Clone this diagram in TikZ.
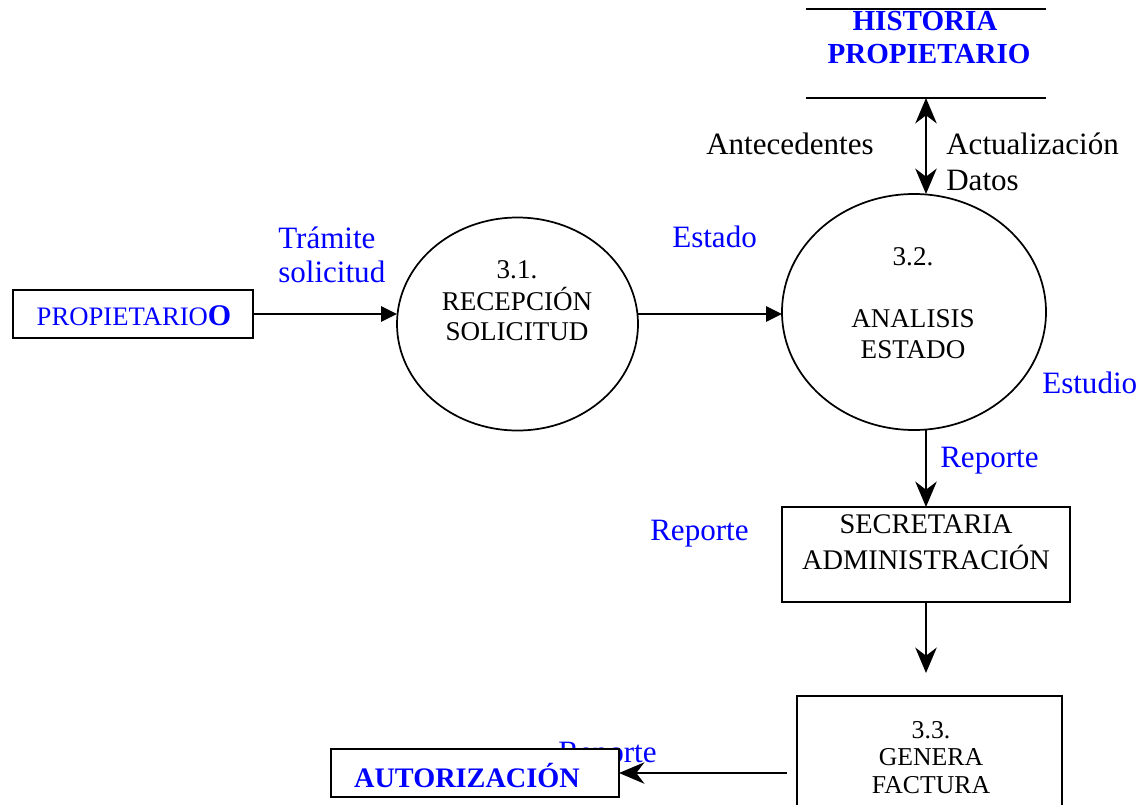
\documentclass[tikz,border=0pt]{standalone}
\usepackage{fontspec}
\setmainfont{Liberation Serif}
\usetikzlibrary{arrows.meta,shapes.geometric}
\definecolor{flowblue}{RGB}{0,0,255}
\tikzset{
  flowarrow/.style={line width=1.7pt, -{Triangle[length=12pt,width=11.5pt]}},
  bigarrow/.style={line width=1.9pt, -{Stealth[length=19pt,width=16pt,inset=6pt]}},
  procshape/.style={ellipse, draw, line width=1.3pt, inner sep=0pt, outer sep=0pt},
  boxshape/.style={rectangle, draw, line width=1.3pt, inner sep=0pt, outer sep=0pt, fill=white},
  lbl/.style={anchor=base west, inner sep=0pt, font=\fontsize{23.3}{28}\selectfont},
  flowlbl/.style={lbl, text=flowblue},
  proctxt/.style={anchor=base, inner sep=0pt, font=\fontsize{20.3}{24}\selectfont},
  boxtxt/.style={anchor=base, inner sep=0pt, font=\fontsize{21.3}{26}\selectfont},
  storetxt/.style={anchor=base, inner sep=0pt, text=flowblue, font=\fontsize{21.8}{26}\selectfont\bfseries},
}
\begin{document}
\begin{tikzpicture}[x=0.75pt,y=-0.75pt]
\useasboundingbox (0,0) rectangle (1146,804);
\clip (0,0) rectangle (1146,804);

% external entity
\node[boxshape, minimum width=240*0.75pt, minimum height=48*0.75pt] (prop) at (133,314) {};
\node[anchor=base, inner sep=0pt, text=flowblue] (propt) at (134,325)
  {\fontsize{20}{24}\selectfont PROPIETARIO\fontsize{22.5}{24}\selectfont\bfseries O};

% processes
\node[procshape, minimum width=241*0.75pt, minimum height=213*0.75pt] (c1) at (517.5,324) {};
\node[proctxt] (c1a) at (517,278) {3.1.};
\node[proctxt] (c1b) at (517,310) {RECEPCIÓN};
\node[proctxt] (c1c) at (517,340) {SOLICITUD};

\node[procshape, minimum width=264*0.75pt, minimum height=236*0.75pt] (c2) at (914,312) {};
\node[proctxt] (c2a) at (913,265) {3.2.};
\node[proctxt] (c2b) at (913,327) {ANALISIS};
\node[proctxt] (c2c) at (913,358) {ESTADO};

% data store
\node[inner sep=0pt, outer sep=0pt, minimum width=240*0.75pt, minimum height=89*0.75pt] (hist) at (926,53.5) {};
\draw[line width=1.3pt] (hist.north west) -- (hist.north east);
\draw[line width=1.3pt] (hist.south west) -- (hist.south east);
\node[storetxt] (hista) at (925,30) {HISTORIA};
\node[storetxt] (histb) at (929,63) {PROPIETARIO};

% secretaria
\node[boxshape, minimum width=288*0.75pt, minimum height=95*0.75pt] (sec) at (926,554.5) {};
\node[boxtxt] (seca) at (926,533) {SECRETARIA};
\node[boxtxt] (secb) at (926,569) {ADMINISTRACIÓN};

% invoice process
\node[boxshape, minimum width=265*0.75pt, minimum height=120*0.75pt] (fact) at (929.5,756) {};
\node[proctxt, font=\fontsize{19.3}{24}\selectfont] (facta) at (931,738) {3.3.};
\node[proctxt, font=\fontsize{19.3}{24}\selectfont] (factb) at (931,765) {GENERA};
\node[proctxt, font=\fontsize{19.3}{24}\selectfont] (factc) at (931,793) {FACTURA};

% flow labels
\node[flowlbl] (l1) at (278,248) {Trámite};
\node[flowlbl] (l2) at (278,282) {solicitud};
\node[flowlbl] (l3) at (672,247) {Estado};
\node[lbl] (l4) at (706,154) {Antecedentes};
\node[lbl] (l5) at (946,154) {Actualización};
\node[lbl] (l6) at (946,190) {Datos};
\node[flowlbl] (l7) at (1042,393) {Estudio};
\node[flowlbl] (l8) at (940,467) {Reporte};
\node[flowlbl] (l9) at (650,540) {Reporte};
\node[flowlbl] (l10) at (558,762) {Reporte};

% authorization entity (covers part of its label)
\node[boxshape, minimum width=288*0.75pt, minimum height=48*0.75pt] (auth) at (475,773) {};
\node[storetxt, font=\fontsize{21.2}{26}\selectfont\bfseries] (autht) at (467,787) {AUTORIZACIÓN};

% flows
\draw[flowarrow] (prop.east) -- (prop.east -| c1.west);
\draw[flowarrow] (c1.east |- prop.east) -- (c2.west |- prop.east);
\draw[line width=1.9pt, {Stealth[length=19pt,width=16pt,inset=6pt]}-{Stealth[length=19pt,width=16pt,inset=6pt]}]
  (hist.south) -- (hist.south |- c2.north);
\draw[bigarrow] (sec.north |- c2.south) -- (sec.north);
\coordinate (secout) at (926,673);
\draw[bigarrow] (sec.south) -- (secout);
\coordinate (factout) at (787,773);
\draw[bigarrow] (factout) -- (auth.east);
\end{tikzpicture}
\end{document}
